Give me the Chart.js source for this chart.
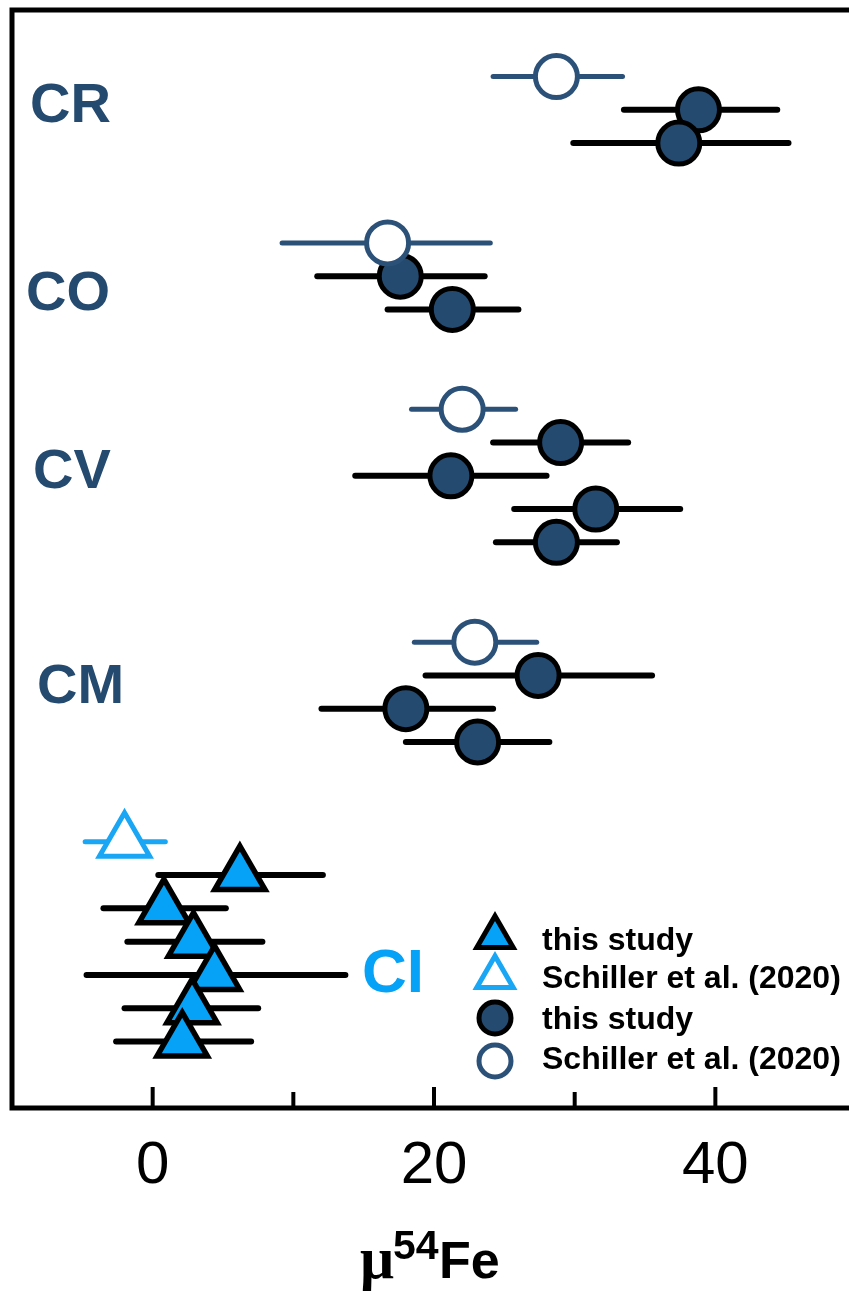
<!DOCTYPE html>
<html>
<head>
<meta charset="utf-8">
<script src="https://cdn.jsdelivr.net/npm/chart.js@4.4.1/dist/chart.umd.min.js"></script>
<style>
    html, body { margin: 0; padding: 0; background: #ffffff; overflow: hidden; }
    #wrap { position: relative; width: 849px; height: 1297px; }
</style>
</head>
<body>
<div id="wrap"><canvas id="feChart"></canvas></div>
<script>
// mu54Fe values (rows counted from the top of the frame)
const groupNames = ['CR', 'CO', 'CV', 'CM', 'CI'];
const groupLabelRows = [2.9, 8.55, 13.9, 20.35, 29.0];

// Schiller et al. (2020), open circles
const schCircRows = [2, 7, 12, 19];
const schCircX = [28.7, 16.7, 22.0, 22.9];
const schCircLo = [24.2, 9.2, 18.4, 18.6];
const schCircHi = [33.4, 24.0, 25.8, 27.3];

// this study, filled circles
const studyCircRows = [3, 4, 8, 9, 13, 14, 15, 16, 20, 21, 22];
const studyCircX = [38.8, 37.4, 17.6, 21.3, 29.0, 21.2, 31.5, 28.7, 27.4, 18.0, 23.1];
const studyCircLo = [33.5, 29.9, 11.7, 16.7, 24.2, 14.4, 25.7, 24.4, 19.4, 12.0, 18.0];
const studyCircHi = [44.4, 45.2, 23.6, 26.0, 33.8, 28.0, 37.5, 33.0, 35.5, 24.2, 28.2];

// CI: Schiller open triangle, this study filled triangles
const schTriRows = [25];
const schTriX = [-2.0];
const schTriLo = [-4.8];
const schTriHi = [0.9];

const studyTriRows = [26, 27, 28, 29, 30, 31];
const studyTriX = [6.2, 0.8, 2.9, 4.4, 2.8, 2.1];
const studyTriLo = [0.4, -3.5, -1.8, -4.7, -2.0, -2.6];
const studyTriHi = [12.1, 5.2, 7.8, 13.7, 7.5, 7.0];

const xTicks = [0, 10, 20, 30, 40];
const legendLabels = ['this study', 'Schiller et al. (2020)', 'this study', 'Schiller et al. (2020)'];

const navy = '#244a6f';
const navyLine = '#2c5179';
const skyBlue = '#05a2f7';
const skyLine = '#19a6f4';

function toPoints(xs, rows) {
    return xs.map((x, i) => ({ x: x, y: rows[i] }));
}

// horizontal error bars, drawn underneath the markers
const errorBarPlugin = {
    id: 'errorBars',
    beforeDatasetsDraw(chart) {
        const ctx = chart.ctx;
        const xs = chart.scales.x;
        const ys = chart.scales.y;
        ctx.save();
        ctx.lineCap = 'round';
        for (let d = chart.data.datasets.length - 1; d >= 0; d--) {
            const ds = chart.data.datasets[d];
            if (!ds.errLo) continue;
            ctx.strokeStyle = ds.errColor;
            ctx.lineWidth = ds.errWidth;
            ds.data.forEach((p, i) => {
                const y = ys.getPixelForValue(p.y);
                ctx.beginPath();
                ctx.moveTo(xs.getPixelForValue(ds.errLo[i]), y);
                ctx.lineTo(xs.getPixelForValue(ds.errHi[i]), y);
                ctx.stroke();
            });
        }
        ctx.restore();
    }
};

// frame, inward ticks, group names, legend and the axis title
const decorPlugin = {
    id: 'decor',
    afterDraw(chart) {
        const ctx = chart.ctx;
        const area = chart.chartArea;
        const xs = chart.scales.x;
        const ys = chart.scales.y;
        ctx.save();

        ctx.strokeStyle = '#000000';
        ctx.lineWidth = 5;
        ctx.lineCap = 'square';
        ctx.beginPath();
        ctx.moveTo(chart.width + 5, area.top);
        ctx.lineTo(area.left, area.top);
        ctx.lineTo(area.left, area.bottom);
        ctx.lineTo(chart.width + 5, area.bottom);
        ctx.stroke();

        ctx.lineWidth = 4;
        ctx.lineCap = 'butt';
        xTicks.forEach(v => {
            const px = xs.getPixelForValue(v);
            const len = v % 20 === 0 ? 21 : 16;
            ctx.beginPath();
            ctx.moveTo(px, area.bottom);
            ctx.lineTo(px, area.bottom - len);
            ctx.stroke();
        });

        ctx.textBaseline = 'middle';
        ctx.textAlign = 'left';
        const labelX = [30, 26, 33, 37, 362];
        groupNames.forEach((name, i) => {
            const isCI = name === 'CI';
            ctx.fillStyle = isCI ? skyBlue : navy;
            ctx.font = 'bold ' + (isCI ? 62 : 56) + 'px "Liberation Sans", Arial, sans-serif';
            ctx.fillText(name, labelX[i], ys.getPixelForValue(groupLabelRows[i]));
        });

        // legend
        const H = Chart.helpers;
        const lx = 495;
        const markers = [
            { style: 'triangle', r: 21, fill: skyBlue, stroke: '#000000', y: 937 },
            { style: 'triangle', r: 21, fill: '#ffffff', stroke: skyLine, y: 977 },
            { style: 'circle', r: 16, fill: navy, stroke: '#000000', y: 1018 },
            { style: 'circle', r: 16, fill: '#ffffff', stroke: navyLine, y: 1061 }
        ];
        markers.forEach(m => {
            ctx.fillStyle = m.fill;
            ctx.strokeStyle = m.stroke;
            ctx.lineWidth = 5;
            H.drawPoint(ctx, { pointStyle: m.style, radius: m.r, rotation: 0, borderWidth: 5 }, lx, m.y);
        });
        ctx.fillStyle = '#000000';
        ctx.font = 'bold 32px "Liberation Sans", Arial, sans-serif';
        const textY = [941, 979, 1020, 1060];
        legendLabels.forEach((t, i) => ctx.fillText(t, 542, textY[i]));

        // x-axis title: mu 54Fe
        ctx.textBaseline = 'alphabetic';
        ctx.font = 'bold 60px "Liberation Serif", "Times New Roman", serif';
        ctx.fillText('\u03bc', 360, 1278);
        ctx.font = 'bold 41px "Liberation Sans", Arial, sans-serif';
        ctx.fillText('54', 393, 1259);
        ctx.font = 'bold 52px "Liberation Sans", Arial, sans-serif';
        ctx.fillText('Fe', 439, 1278);

        ctx.restore();
    }
};

new Chart(document.getElementById('feChart').getContext('2d'), {
    type: 'scatter',
    data: {
        datasets: [
            {
                label: 'Schiller et al. (2020)',
                data: toPoints(schCircX, schCircRows),
                errLo: schCircLo, errHi: schCircHi, errColor: navyLine, errWidth: 5,
                pointStyle: 'circle',
                pointRadius: 21,
                backgroundColor: '#ffffff',
                borderColor: navyLine,
                borderWidth: 5
            },
            {
                label: 'this study',
                data: toPoints(studyCircX, studyCircRows),
                errLo: studyCircLo, errHi: studyCircHi, errColor: '#000000', errWidth: 6,
                pointStyle: 'circle',
                pointRadius: 21,
                backgroundColor: navy,
                borderColor: '#000000',
                borderWidth: 5
            },
            {
                label: 'Schiller et al. (2020)',
                data: toPoints(schTriX, schTriRows),
                errLo: schTriLo, errHi: schTriHi, errColor: skyLine, errWidth: 5,
                pointStyle: 'triangle',
                pointRadius: 29,
                backgroundColor: '#ffffff',
                borderColor: skyLine,
                borderWidth: 5
            },
            {
                label: 'this study',
                data: toPoints(studyTriX, studyTriRows),
                errLo: studyTriLo, errHi: studyTriHi, errColor: '#000000', errWidth: 6,
                pointStyle: 'triangle',
                pointRadius: 29,
                backgroundColor: skyBlue,
                borderColor: '#000000',
                borderWidth: 5.5
            }
        ]
    },
    options: {
        responsive: true,
        maintainAspectRatio: false,
        animation: false,
        layout: { autoPadding: false, padding: { left: 12, right: 0, top: 10, bottom: 73 } },
        plugins: {
            legend: { display: false },
            tooltip: { enabled: false }
        },
        elements: { point: { hoverRadius: 21 } },
        scales: {
            x: {
                type: 'linear',
                min: -10,
                max: 49.5,
                afterBuildTicks: axis => { axis.ticks = xTicks.map(v => ({ value: v })); },
                border: { display: false },
                grid: { display: false, drawTicks: false },
                ticks: {
                    padding: 22,
                    color: '#000000',
                    font: { family: '"Liberation Sans", Arial, sans-serif', size: 60 },
                    callback: v => (v % 20 === 0 ? String(v) : '')
                }
            },
            y: {
                type: 'linear',
                display: false,
                reverse: true,
                min: 0,
                max: 33
            }
        }
    },
    plugins: [errorBarPlugin, decorPlugin]
});
</script>
</body>
</html>
